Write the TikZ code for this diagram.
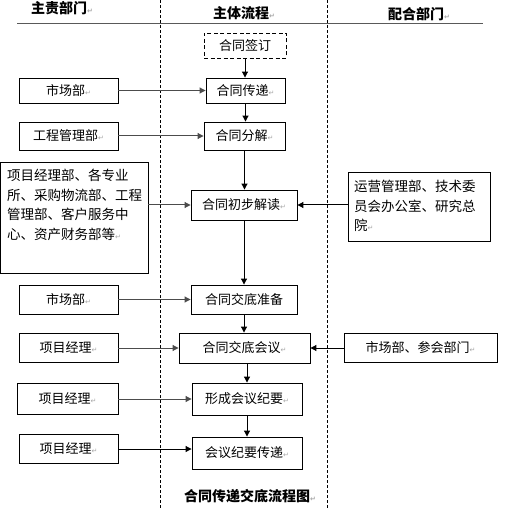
\documentclass[tikz,border=0pt]{standalone}
\usepackage{fontspec}
\setmainfont{Noto Sans CJK SC}
\newfontfamily\dvs{DejaVu Sans}
\usetikzlibrary{arrows.meta}
\newcommand\rtm{{\dvs\color{black!35}\fontsize{7pt}{8pt}\selectfont ↵}}
\tikzset{
  box/.style={draw=black, line width=0.9pt, inner sep=0pt, font=\fontsize{13pt}{16pt}\selectfont},
  dbox/.style={box, dash pattern=on 4pt off 2.5pt},
  arr/.style={draw=black!70, line width=1pt, -{Triangle[length=6pt,width=6pt]}},
  arrk/.style={draw=black, line width=1pt, -{Triangle[length=6pt,width=6pt]}},
  hdr/.style={font=\bfseries\fontsize{14pt}{16pt}\selectfont},
  lane/.style={draw=black, line width=0.8pt, dash pattern=on 3pt off 2pt},
  para/.style={align=left, inner sep=0pt, anchor=north west, font=\fontsize{13.5pt}{19.5pt}\selectfont}
}
\begin{document}
\begin{tikzpicture}[x=1pt,y=-1pt]
\useasboundingbox (0,0) rectangle (504,510);
% header
\node[hdr] (h1) at (62,8) {主责部门\rtm};
\node[hdr] (h2) at (244,13) {主体流程\rtm};
\node[hdr] (h3) at (419,14) {配合部门\rtm};
\coordinate (hl1) at (17,24);
\coordinate (hl2) at (483,24);
\draw[black!65, line width=1pt] (hl1) -- (hl2);
% lanes
\coordinate (l1t) at (160,0); \coordinate (l1b) at (160,510);
\coordinate (l2t) at (327,0); \coordinate (l2b) at (327,510);
\draw[lane] (l1t) -- (l1b);
\draw[lane] (l2t) -- (l2b);
% main process
\node[dbox, minimum width=82pt, minimum height=25pt] (p1) at (245,45.5) {合同签订};
\node[box, minimum width=79pt, minimum height=25pt] (p2) at (245.5,90.5) {合同传递\rtm};
\node[box, minimum width=81pt, minimum height=28pt] (p3) at (244.5,136) {合同分解\rtm};
\node[box, minimum width=106pt, minimum height=30pt] (p4) at (244,205) {合同初步解读\rtm};
\node[box, minimum width=106pt, minimum height=29pt] (p5) at (244,299.5) {合同交底准备};
\node[box, minimum width=131pt, minimum height=30pt] (p6) at (244.5,348) {合同交底会议\rtm};
\node[box, minimum width=110pt, minimum height=32pt] (p7) at (247,399) {形成会议纪要\rtm};
\node[box, minimum width=110pt, minimum height=32pt] (p8) at (247,453) {会议纪要传递\rtm};
% left departments
\node[box, minimum width=99pt, minimum height=25pt] (m1) at (68.5,90.5) {市场部\rtm};
\node[box, minimum width=99pt, minimum height=28pt] (m2) at (68.5,136) {工程管理部\rtm};
\node[box, minimum width=148pt, minimum height=111pt] (m3) at (74,217.5) {};
\node[para] (m3t) at (7,169) {项目经理部、各专业\\所、采购物流部、工程\\管理部、客户服务中\\心、资产财务部等\rtm};
\node[box, minimum width=99pt, minimum height=29pt] (m4) at (68.5,299.5) {市场部\rtm};
\node[box, minimum width=99pt, minimum height=29pt] (m5) at (68.5,348) {项目经理\rtm};
\node[box, minimum width=101pt, minimum height=31pt] (m6) at (67.5,399) {项目经理\rtm};
\node[box, minimum width=99pt, minimum height=29pt] (m7) at (68.5,449) {项目经理\rtm};
% right departments
\node[box, minimum width=142pt, minimum height=69pt] (r1) at (419,206.5) {};
\node[para] (r1t) at (354,180) {运营管理部、技术委\\员会办公室、研究总\\院\rtm};
\node[box, minimum width=153pt, minimum height=29pt] (r2) at (420.5,348) {市场部、参会部门\rtm};
% vertical flow
\draw[arrk] (p1.south) -- (p1.south |- p2.north);
\draw[arrk] (p2.south) -- (p2.south |- p3.north);
\draw[arrk] (p3.south) -- (p3.south |- p4.north);
\draw[arrk] (p4.south) -- (p4.south |- p5.north);
\draw[arrk] (p5.south) -- (p5.south |- p6.north);
\draw[arrk] (p7.north |- p6.south) -- (p7.north);
\draw[arrk] (p7.south) -- (p8.north);
% horizontal inputs
\draw[arr] (m1.east) -- (m1.east -| p2.west);
\draw[arr] (m2.east) -- (m2.east -| p3.west);
\draw[arr] (m3.east |- p4.west) -- (p4.west);
\draw[arrk] (r1.west |- p4.east) -- (p4.east);
\draw[arr] (m4.east) -- (m4.east -| p5.west);
\draw[arr] (m5.east) -- (m5.east -| p6.west);
\draw[arrk] (r2.west) -- (r2.west -| p6.east);
\draw[arr] (m6.east) -- (m6.east -| p7.west);
\draw[arrk] (m7.east) -- (m7.east -| p8.west);
% title
\node[hdr] (title) at (250,496) {合同传递交底流程图\rtm};
\end{tikzpicture}
\end{document}
